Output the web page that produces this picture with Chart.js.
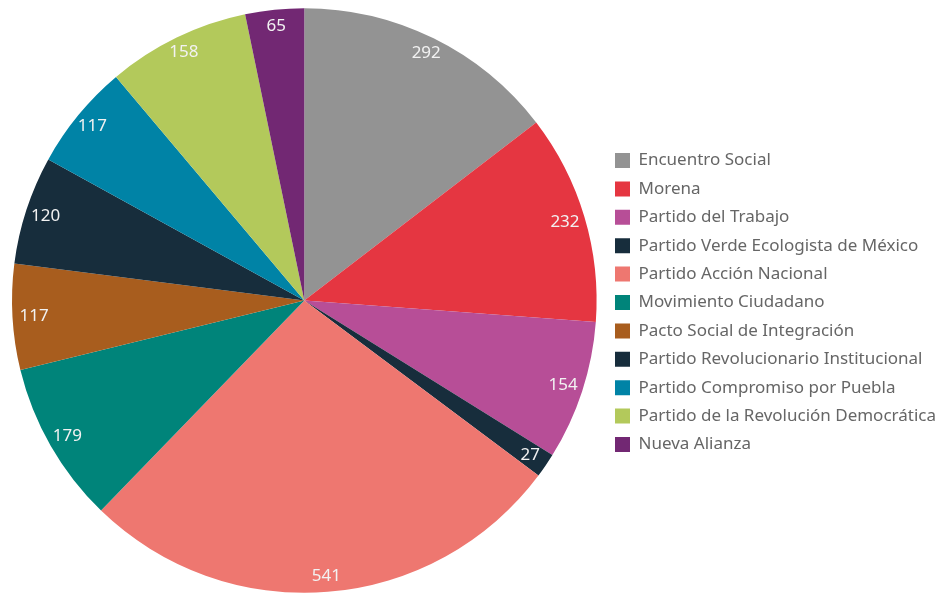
<!DOCTYPE html>
<html>
<head>
<meta charset="utf-8">
<script src="https://cdn.jsdelivr.net/npm/chart.js@4.4.1/dist/chart.umd.min.js"></script>
<style>
  html, body { margin: 0; padding: 0; background: #fff; }
  #wrap { width: 939px; height: 593px; position: relative; }
</style>
</head>
<body>
<div id="wrap"><canvas id="chart"></canvas></div>
<script>
const parties = [
  'Encuentro Social',
  'Morena',
  'Partido del Trabajo',
  'Partido Verde Ecologista de México',
  'Partido Acción Nacional',
  'Movimiento Ciudadano',
  'Pacto Social de Integración',
  'Partido Revolucionario Institucional',
  'Partido Compromiso por Puebla',
  'Partido de la Revolución Democrática',
  'Nueva Alianza'
];
const votes = [292, 232, 154, 27, 541, 179, 117, 120, 117, 158, 65];
const colors = ['#939393', '#e53641', '#b74e97', '#172d3c', '#ee7770', '#00847a',
                '#a85d1e', '#172d3c', '#0083a6', '#b3c95b', '#722873'];

const FONT = '"Noto Sans", sans-serif';

// value labels near the outer edge of each slice
const sliceLabels = {
  id: 'sliceLabels',
  afterDatasetsDraw(chart) {
    const ctx = chart.ctx;
    const meta = chart.getDatasetMeta(0);
    ctx.save();
    ctx.font = '17px ' + FONT;
    ctx.fillStyle = '#f2f2f2';
    ctx.textAlign = 'center';
    ctx.textBaseline = 'middle';
    meta.data.forEach((arc, i) => {
      const p = arc.getProps(['x', 'y', 'startAngle', 'endAngle', 'outerRadius'], true);
      const mid = (p.startAngle + p.endAngle) / 2;
      // a little further out at top/bottom, a little less at the sides
      const r = p.outerRadius * (0.925 + 0.02 * Math.abs(Math.sin(mid)));
      ctx.fillText(String(votes[i]), p.x + Math.cos(mid) * r, p.y + Math.sin(mid) * r);
    });
    ctx.restore();
  }
};

// nudge the legend a bit to the right / down without touching the pie
const legendNudge = {
  id: 'legendNudge',
  afterLayout(chart) {
    const lg = chart.legend;
    if (!lg) return;
    lg.left += 7; lg.right += 7;
    lg.top += 2; lg.bottom += 2;
  }
};

new Chart(document.getElementById('chart'), {
  type: 'pie',
  data: {
    labels: parties,
    datasets: [{
      data: votes,
      backgroundColor: colors,
      borderWidth: 0
    }]
  },
  options: {
    responsive: true,
    maintainAspectRatio: false,
    animation: false,
    layout: { padding: { left: 12, top: 8, right: 0, bottom: 0 } },
    plugins: {
      legend: {
        position: 'right',
        align: 'center',
        labels: {
          color: '#666',
          font: { size: 17, family: FONT },
          boxWidth: 15,
          boxHeight: 15,
          padding: 11.4
        }
      },
      tooltip: { enabled: false }
    }
  },
  plugins: [sliceLabels, legendNudge]
});
</script>
</body>
</html>
